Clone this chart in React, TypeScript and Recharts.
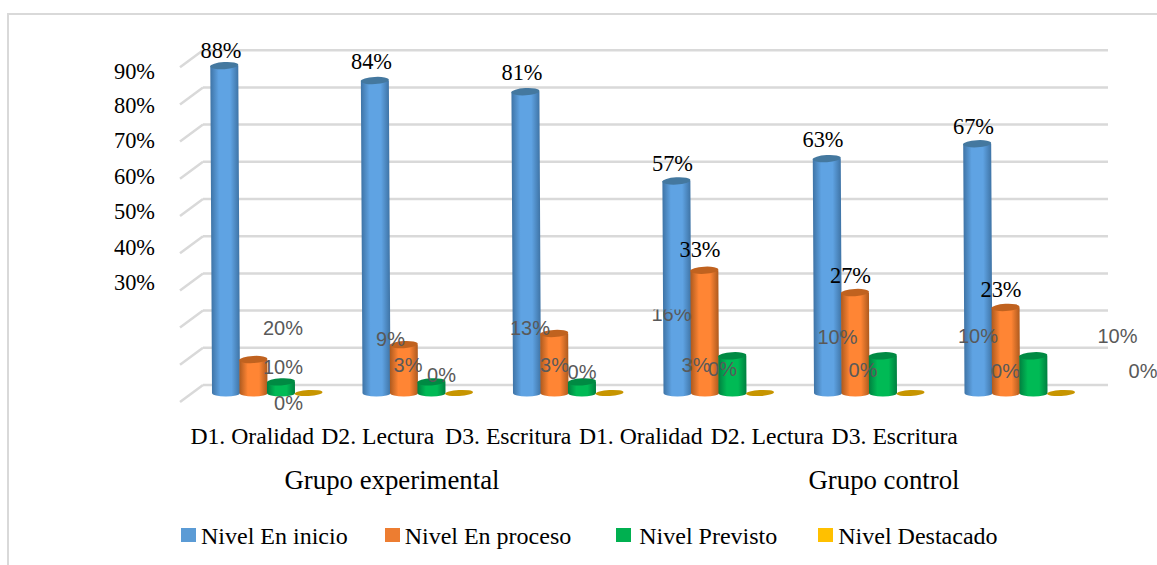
import React from 'react';
import { BarChart, Bar, XAxis, YAxis, CartesianGrid, Legend, LabelList } from 'recharts';

const categories = ['D1. Oralidad', 'D2. Lectura', 'D3. Escritura', 'D1. Oralidad', 'D2. Lectura', 'D3. Escritura'];
const inicio = [88, 84, 81, 57, 63, 67];
const proceso = [9, 13, 16, 33, 27, 23];
const previsto = [3, 3, 3, 10, 10, 10];
const destacado = [0, 0, 0, 0, 0, 0];
const yTicks = [0, 10, 20, 30, 40, 50, 60, 70, 80, 90];

const data = categories.map((name, i) => ({
  key: `${name}-${i}`,
  name,
  inicio: inicio[i],
  proceso: proceso[i],
  previsto: previsto[i],
  destacado: destacado[i],
}));

const SERIF = '"Liberation Serif", serif';
const SANS = '"Liberation Sans", sans-serif';

// the source chart has its labels dragged around by hand, so these are offsets from the computed spot
const tickShift: Record<number, [number, number]> = {
  90: [-31, 13], 80: [-31, 10], 70: [-31, 8], 60: [-31, 7], 50: [-31, 4], 40: [-31, 3], 30: [-31, 1],
  20: [117, 9], 10: [117, 11], 0: [117, 10],
};
const categoryShift = [-15, -40, -60, -78, -102, -125];
const inicioShift: [number, number][] = [[-5, -15], [-5, -19], [-5, -19], [-5, -17], [-5, -19], [-5, -17]];
const procesoShift: [number, number][] = [[137, -21], [126, -17], [117, -19], [-5, -21], [-5, -17], [-5, -18]];
const previstoShift: [number, number][] = [[127, -17], [123, -17], [114, -17], [105, -19], [95, -20], [84, -20]];
const destacadoShift: [number, number][] = [[133, -18], [123, -21], [113, -24], [103, -23], [95, -22], [82, -22]];

const shades: Record<string, [string, string, string, string]> = {
  blue: ['#3f74a6', '#5fa3e3', '#3f74a6', '#44789f'],
  orange: ['#ae5a1e', '#ff8534', '#ae5a1e', '#c0621f'],
  green: ['#008040', '#00ba55', '#008040', '#008a43'],
  gold: ['#c79500', '#c79500', '#c79500', '#c79500'],
};

const Gradients = () => (
  <defs>
    {Object.entries(shades).map(([id, c]) => (
      <linearGradient key={id} id={`cyl-${id}`} x1="0" x2="1" y1="0" y2="0">
        <stop offset="0%" stopColor={c[0]} />
        <stop offset="30%" stopColor={c[1]} />
        <stop offset="70%" stopColor={c[1]} />
        <stop offset="100%" stopColor={c[2]} />
      </linearGradient>
    ))}
  </defs>
);

const Cylinder = (color: string) => (props: any) => {
  const { x, y, width, height } = props;
  const rx = width / 2;
  const cx = x + rx;
  const ry = 3.6;
  const base = y + height;
  const c = shades[color];
  if (height < 1) {
    return <ellipse cx={cx} cy={base} rx={rx} ry={3} fill={c[3]} transform={`rotate(-3 ${cx} ${base})`} />;
  }
  return (
    <g transform={`rotate(-0.3 ${cx} ${base})`}>
      <path
        d={`M${x},${y} L${x},${base} A${rx},${ry} 0 0 0 ${x + width},${base} L${x + width},${y} Z`}
        fill={`url(#cyl-${color})`}
      />
      <ellipse cx={cx} cy={y} rx={rx} ry={ry} fill={c[3]} transform={`rotate(-3 ${cx} ${y})`} />
    </g>
  );
};

const wallDy = -8;

// back wall line plus the short diagonal running to the front of the floor
const WallLine = (props: any) => {
  const { x1, x2, y1 } = props;
  return (
    <g stroke="#d9d9d9" strokeWidth={2.5} fill="none">
      <line x1={x1 + 11} x2={x2 + 13} y1={y1 + wallDy} y2={y1 + wallDy} />
      <line x1={x1 + 11} x2={x1 - 12} y1={y1 + wallDy} y2={y1 + 9} />
    </g>
  );
};

const YTick = (props: any) => {
  const { x, y, payload } = props;
  const [dx, dy] = tickShift[payload.value] || [0, 0];
  const gray = payload.value <= 20;
  return (
    <text
      x={x + dx}
      y={y + dy}
      textAnchor="end"
      dominantBaseline="central"
      fill={gray ? '#595959' : '#000'}
      fontFamily={gray ? SANS : SERIF}
      fontSize={gray ? 20 : 22.4}
    >
      {payload.value}%
    </text>
  );
};

const XTick = (props: any) => {
  const { x, y, payload, index } = props;
  return (
    <text x={x + categoryShift[index]} y={y + 35} textAnchor="middle" dominantBaseline="central" fontFamily={SERIF} fontSize={23.7} fill="#000">
      {payload.value}
    </text>
  );
};

// blackFrom: labels from this index on were restyled in the source. cutIndex: label whose top is cut off there
const makeLabel = (shift: [number, number][], blackFrom = 99, cutIndex = -1) => (props: any) => {
  const { x, y, width, value, index } = props;
  const s = shift[index];
  const black = index >= blackFrom;
  const tx = x + width / 2 + s[0];
  const ty = y + s[1];
  const cut = index === cutIndex;
  return (
    <g>
      {cut && (
        <clipPath id={`label-cut-${index}`}>
          <rect x={tx - 30} y={ty - 5} width={60} height={24} />
        </clipPath>
      )}
      <text
        x={tx}
        y={ty}
        textAnchor="middle"
        dominantBaseline="central"
        fill={black ? '#000' : '#595959'}
        fontFamily={black ? SERIF : SANS}
        fontSize={black ? 22.4 : 20}
        clipPath={cut ? `url(#label-cut-${index})` : undefined}
      >
        {value}%
      </text>
    </g>
  );
};

const legendItems = [
  { label: 'Nivel En inicio', color: '#5b9bd5', gap: 37, textGap: 5 },
  { label: 'Nivel En proceso', color: '#ed7d31', gap: 45, textGap: 5 },
  { label: 'Nivel Previsto', color: '#00b050', gap: 41, textGap: 8 },
  { label: 'Nivel Destacado', color: '#ffc000', gap: 0, textGap: 5 },
];

const LegendBox = () => (
  <div style={{ display: 'flex', alignItems: 'center', fontFamily: SERIF, fontSize: 24, color: '#000', whiteSpace: 'nowrap' }}>
    {legendItems.map(item => (
      <span key={item.label} style={{ display: 'flex', alignItems: 'center', marginRight: item.gap }}>
        <span style={{ width: 15, height: 14, background: item.color, marginRight: item.textGap, marginTop: -4 }} />
        {item.label}
      </span>
    ))}
  </div>
);

export default function App() {
  return (
    <div style={{ position: 'absolute', left: 0, top: 0, width: 1157, height: 565, background: '#fff', overflow: 'hidden' }}>
      <div style={{ position: 'absolute', left: 7, top: 13, width: 1150, height: 552, borderTop: '2px solid #d9d9d9', borderLeft: '2px solid #d9d9d9', boxSizing: 'border-box' }} />
      <BarChart
        width={1157}
        height={565}
        data={data}
        margin={{ top: 21, right: 62, bottom: 132, left: 0 }}
        barSize={28}
        barGap={-0.5}
        style={{ position: 'absolute', left: 0, top: 0 }}
      >
        <Gradients />
        <CartesianGrid vertical={false} horizontal={(p: any) => <WallLine key={p.key} {...p} />} horizontalValues={yTicks} />
        <XAxis dataKey="key" axisLine={false} tickLine={false} tick={(p: any) => <XTick {...p} payload={{ ...p.payload, value: categories[p.index] }} />} height={40} interval={0} />
        <YAxis domain={[0, 100]} ticks={yTicks} width={192} axisLine={false} tickLine={false} tick={YTick} interval={0} tickMargin={0} />
        <Bar dataKey="inicio" fill="#5b9bd5" isAnimationActive={false} shape={Cylinder('blue')}>
          <LabelList dataKey="inicio" content={makeLabel(inicioShift, 0)} />
        </Bar>
        <Bar dataKey="proceso" fill="#ed7d31" isAnimationActive={false} shape={Cylinder('orange')}>
          <LabelList dataKey="proceso" content={makeLabel(procesoShift, 3, 2)} />
        </Bar>
        <Bar dataKey="previsto" fill="#00b050" isAnimationActive={false} shape={Cylinder('green')}>
          <LabelList dataKey="previsto" content={makeLabel(previstoShift)} />
        </Bar>
        <Bar dataKey="destacado" fill="#ffc000" isAnimationActive={false} shape={Cylinder('gold')}>
          <LabelList dataKey="destacado" content={makeLabel(destacadoShift)} />
        </Bar>
        <text x={392} y={480} textAnchor="middle" dominantBaseline="central" fontFamily={SERIF} fontSize={26.8} fill="#000">Grupo experimental</text>
        <text x={884} y={480} textAnchor="middle" dominantBaseline="central" fontFamily={SERIF} fontSize={26.8} fill="#000">Grupo control</text>
        <Legend content={<LegendBox />} layout="horizontal" verticalAlign="top" align="left" wrapperStyle={{ left: 181, top: 523, width: 900, height: 0 }} />
      </BarChart>
    </div>
  );
}
